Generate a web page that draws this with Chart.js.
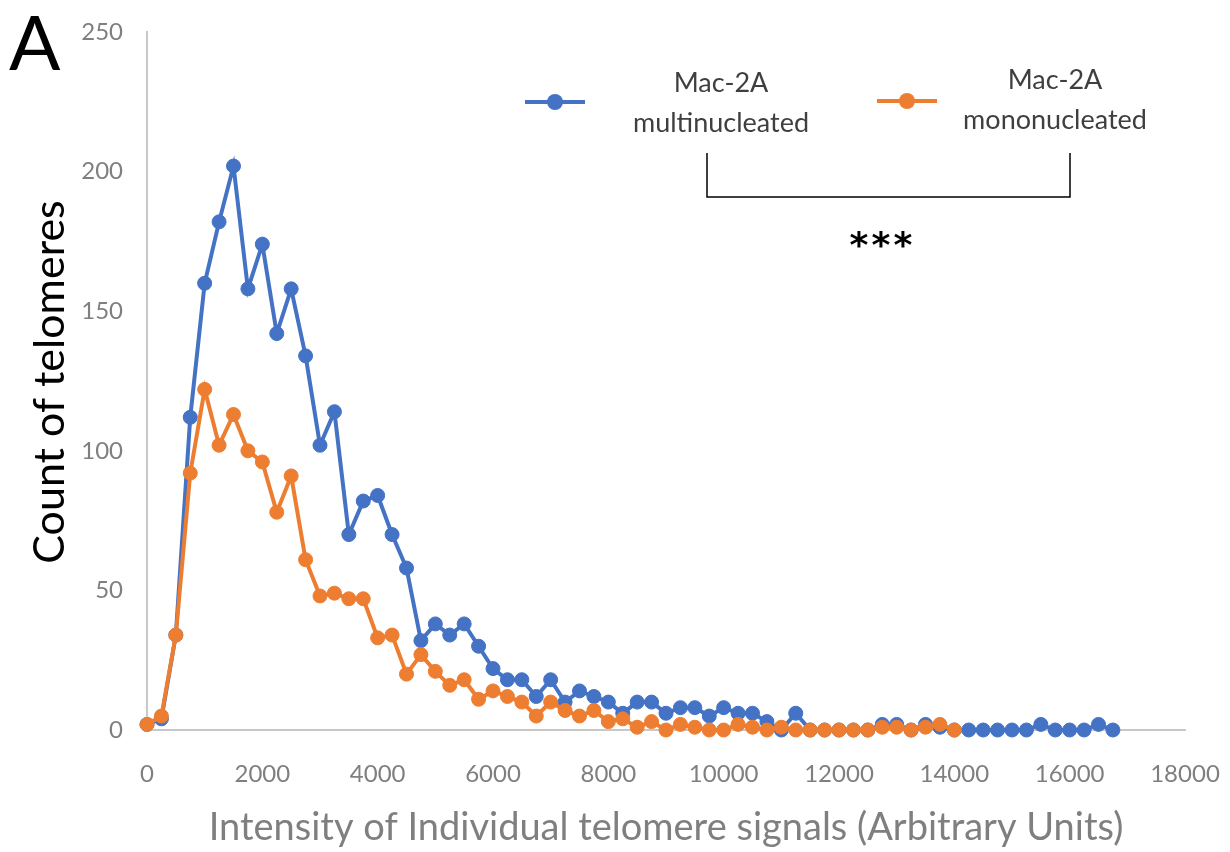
<!DOCTYPE html>
<html>
<head>
<meta charset="utf-8">
<script src="https://cdn.jsdelivr.net/npm/chart.js@4.4.1/dist/chart.umd.min.js"></script>
<style>
  html, body { margin: 0; padding: 0; background: #fff; }
  canvas { display: block; }
</style>
</head>
<body>
<canvas id="chart" width="1230" height="852"></canvas>
<script>
// intensity bins (x), one per point
const INTENSITY = [
  0, 250, 500, 750, 1000, 1250, 1500, 1750, 2000, 2250,
  2500, 2750, 3000, 3250, 3500, 3750, 4000, 4250, 4500, 4750,
  5000, 5250, 5500, 5750, 6000, 6250, 6500, 6750, 7000, 7250,
  7500, 7750, 8000, 8250, 8500, 8750, 9000, 9250, 9500, 9750,
  10000, 10250, 10500, 10750, 11000, 11250, 11500, 11750, 12000, 12250,
  12500, 12750, 13000, 13250, 13500, 13750, 14000, 14250, 14500, 14750,
  15000, 15250, 15500, 15750, 16000, 16250, 16500, 16750
];

const MULTI = [
  2, 4, 34, 112, 160, 182, 202, 158, 174, 142,
  158, 134, 102, 114, 70, 82, 84, 70, 58, 32,
  38, 34, 38, 30, 22, 18, 18, 12, 18, 10,
  14, 12, 10, 6, 10, 10, 6, 8, 8, 5,
  8, 6, 6, 3, 0, 6, 0, 0, 0, 0,
  0, 2, 2, 0, 2, 1, 0, 0, 0, 0,
  0, 0, 2, 0, 0, 0, 2, 0
];

const MONO = [
  2, 5, 34, 92, 122, 102, 113, 100, 96, 78,
  91, 61, 48, 49, 47, 47, 33, 34, 20, 27,
  21, 16, 18, 11, 14, 12, 10, 5, 10, 7,
  5, 7, 3, 4, 1, 3, 0, 2, 1, 0,
  0, 2, 1, 0, 1, 0, 0, 0, 0, 0,
  0, 1, 1, 0, 1, 2, 0
];

const SERIES_NAMES = [['Mac-2A', 'multinucleated'], ['Mac-2A', 'mononucleated']];
const X_TITLE = 'Intensity of Individual telomere signals (Arbitrary Units)';
const Y_TITLE = 'Count of telomeres';
const PANEL = 'A';
const STAR = '*';

const BLUE = '#4472c4';
const ORANGE = '#ed7d31';
const FONT = 'Lato, "Open Sans", sans-serif';

const toPoints = (xs, ys) => ys.map((y, i) => ({ x: xs[i], y }));

// ── extra drawing: y title, legend, bracket, panel letter ──────────────────
const decorPlugin = {
  id: 'decor',
  afterDraw(chart) {
    const { ctx } = chart;
    ctx.save();

    // panel letter
    ctx.fillStyle = '#000';
    ctx.font = `76px ${FONT}`;
    ctx.textAlign = 'left';
    ctx.textBaseline = 'alphabetic';
    ctx.fillText(PANEL, 9, 70);

    // y axis title
    ctx.save();
    ctx.translate(50, 382);
    ctx.rotate(-Math.PI / 2);
    ctx.font = `43px ${FONT}`;
    ctx.textAlign = 'center';
    ctx.textBaseline = 'middle';
    ctx.fillText(Y_TITLE, 0, 0);
    ctx.restore();

    // legend
    const items = [
      { color: BLUE,   x0: 525, x1: 585, y: 102, tx: 721,  names: SERIES_NAMES[0], ty: 83 },
      { color: ORANGE, x0: 877, x1: 937, y: 101, tx: 1055, names: SERIES_NAMES[1], ty: 80 },
    ];
    items.forEach(it => {
      ctx.strokeStyle = it.color;
      ctx.fillStyle = it.color;
      ctx.lineWidth = 4;
      ctx.beginPath();
      ctx.moveTo(it.x0, it.y);
      ctx.lineTo(it.x1, it.y);
      ctx.stroke();
      ctx.beginPath();
      ctx.arc((it.x0 + it.x1) / 2, it.y, 8, 0, Math.PI * 2);
      ctx.fill();
      ctx.fillStyle = '#3f3f3f';
      ctx.font = `27px ${FONT}`;
      ctx.textAlign = 'center';
      ctx.textBaseline = 'middle';
      ctx.fillText(it.names[0], it.tx, it.ty);
      ctx.fillText(it.names[1], it.tx, it.ty + 40);
    });

    // significance bracket
    ctx.strokeStyle = '#000';
    ctx.lineWidth = 1.5;
    ctx.beginPath();
    ctx.moveTo(707, 153);
    ctx.lineTo(707, 197);
    ctx.lineTo(1070, 197);
    ctx.lineTo(1070, 153);
    ctx.stroke();
    ctx.fillStyle = '#000';
    ctx.font = `bold 36px "DejaVu Sans", sans-serif`;
    ctx.textAlign = 'center';
    ctx.textBaseline = 'alphabetic';
    [859, 881, 903].forEach(x => ctx.fillText(STAR, x, 257));

    ctx.restore();
  }
};

const ctx = document.getElementById('chart').getContext('2d');
new Chart(ctx, {
  type: 'line',
  plugins: [decorPlugin],
  data: {
    datasets: [
      {
        label: SERIES_NAMES[0].join(' '),
        data: toPoints(INTENSITY, MULTI),
        borderColor: BLUE,
        backgroundColor: BLUE,
        borderWidth: 4,
        pointRadius: 7,
        pointBorderWidth: 1,
        tension: 0,
        clip: false,
        order: 2,
      },
      {
        label: SERIES_NAMES[1].join(' '),
        data: toPoints(INTENSITY, MONO),
        borderColor: ORANGE,
        backgroundColor: ORANGE,
        borderWidth: 4,
        pointRadius: 7,
        pointBorderWidth: 1,
        tension: 0,
        clip: false,
        order: 1,
      }
    ]
  },
  options: {
    responsive: false,
    animation: false,
    layout: { padding: { left: 0, top: 32, right: 45, bottom: 0 } },
    scales: {
      x: {
        type: 'linear',
        min: 0, max: 18000,
        afterFit: s => { s.height = 122; s.paddingLeft = 0; s.paddingRight = 0; },
        grid: { display: false, drawTicks: false },
        border: { display: true, color: '#c8c8c8', width: 2 },
        ticks: {
          stepSize: 2000,
          padding: 30,
          color: '#7f7f7f',
          font: { family: FONT, size: 24 },
          callback: v => String(v),
        },
        title: {
          display: true,
          text: X_TITLE,
          color: '#7f7f7f',
          font: { family: FONT, size: 38 },
          padding: { top: 0, bottom: 1 },
        }
      },
      y: {
        min: 0, max: 250,
        afterFit: s => { s.width = 147; s.paddingTop = 0; s.paddingBottom = 0; },
        grid: { display: false, drawTicks: false },
        border: { display: true, color: '#c8c8c8', width: 2 },
        ticks: {
          stepSize: 50,
          padding: 24,
          color: '#7f7f7f',
          font: { family: FONT, size: 24 },
          callback: v => String(v),
        }
      }
    },
    plugins: {
      legend: { display: false },
      tooltip: { enabled: false },
    }
  }
});
</script>
</body>
</html>
